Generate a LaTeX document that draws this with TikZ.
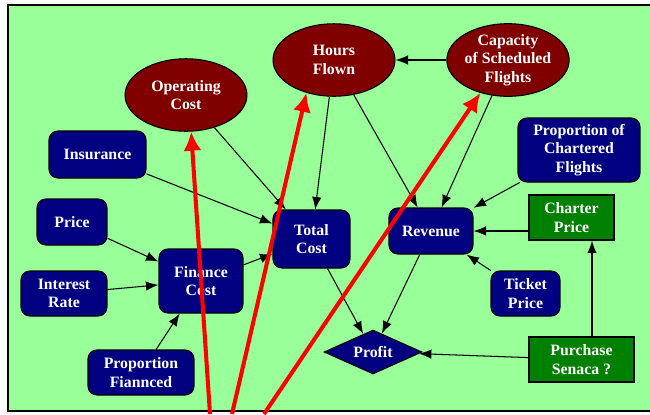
\documentclass[tikz,border=0pt]{standalone}
\usepackage{fontspec}
\setmainfont{Liberation Serif}
\usepackage{xcolor}
\usetikzlibrary{arrows.meta,positioning,shapes.geometric}
\definecolor{paneltint}{HTML}{99FF99}
\definecolor{navyfill}{HTML}{000080}
\definecolor{maroonfill}{HTML}{800000}
\definecolor{leaffill}{HTML}{008000}
\definecolor{inkline}{HTML}{000000}
\tikzset{
  labelfont/.style={font=\bfseries\fontsize{9}{10.5}\selectfont, text=white, align=center},
  ovalnode/.style={
    ellipse,
    draw=inkline,
    line width=0.6pt,
    fill=maroonfill,
    labelfont,
    inner sep=0pt,
    minimum width=2.44cm,
    minimum height=1.45cm
  },
  varbox/.style={
    rectangle,
    draw=inkline,
    rounded corners=5pt,
    line width=0.6pt,
    fill=navyfill,
    labelfont,
    inner sep=0pt,
    minimum height=0.9cm
  },
  choicebox/.style={
    rectangle,
    draw=inkline,
    line width=0.8pt,
    fill=leaffill,
    labelfont,
    inner sep=0pt,
    minimum height=0.9cm
  },
  valuenode/.style={
    diamond,
    draw=inkline,
    line width=0.6pt,
    fill=navyfill,
    labelfont,
    inner sep=0pt,
    aspect=2.2,
    minimum width=1.96cm,
    minimum height=0.88cm
  },
  linkarrow/.style={-{Latex[length=0.25cm,width=0.19cm]}, line width=0.6pt, draw=inkline},
  redarrow/.style={-{Latex[length=0.38cm,width=0.36cm]}, line width=2.3pt, draw=red}
}
\begin{document}
\begin{tikzpicture}[x=0.02cm, y=-0.02cm]
  \useasboundingbox (0,0) rectangle (650,414);
  \fill[white] (0,0) rectangle (650,414);
  \draw[fill=paneltint, draw=inkline, line width=1.1pt] (8,5) rectangle (668,411);

  % chance nodes
  \node[ovalnode] (opcost) at (186,95) {Operating\\Cost};
  \node[ovalnode] (hours) at (334,60) {Hours\\Flown};
  \node[ovalnode, minimum width=2.4cm] (capacity) at (508,60) {Capacity\\of Scheduled\\Flights};

  % inputs
  \node[varbox, minimum width=1.94cm, minimum height=0.94cm] (insur) at (97.5,154.5) {Insurance};
  \node[varbox, minimum width=1.4cm, minimum height=0.92cm] (price) at (72,222) {Price};
  \node[varbox, minimum width=1.72cm] (irate) at (64,293.5) {Interest\\Rate};
  \node[varbox, minimum width=1.68cm, minimum height=1.28cm] (fincost) at (201,281) {Finance\\Cost};
  \node[varbox, minimum width=2.12cm] (propfin) at (141,372.5) {Proportion\\Fiannced};
  \node[varbox, minimum width=1.54cm, minimum height=1.16cm] (total) at (311.5,239) {Total\\Cost};
  \node[varbox, minimum width=1.68cm, minimum height=0.92cm] (revenue) at (431,231) {Revenue};
  \node[varbox, minimum width=2.44cm, minimum height=1.28cm] (propchart) at (579,150) {Proportion of\\Chartered\\Flights};
  \node[varbox, minimum width=1.38cm] (ticket) at (525.5,293.5) {Ticket\\Price};

  % decisions and value
  \node[choicebox, minimum width=1.7cm] (charter) at (571.5,217.5) {Charter\\Price};
  \node[choicebox, minimum width=2.1cm] (purchase) at (581.5,359.5) {Purchase\\Senaca ?};
  \node[valuenode] (profit) at (373,352) {Profit};

  \draw[linkarrow] (opcost) -- (total);
  \draw[linkarrow] (insur) -- (total);
  \draw[linkarrow] (hours) -- (total);
  \draw[linkarrow] (hours) -- (revenue);
  \draw[linkarrow] (capacity) -- (hours);
  \draw[linkarrow] (capacity) -- (revenue);
  \draw[linkarrow] (propchart) -- (revenue);
  \draw[linkarrow] (charter.west |- revenue.east) -- (revenue.east);
  \draw[linkarrow] (ticket) -- (revenue);
  \draw[linkarrow] (price) -- (fincost);
  \draw[linkarrow] (irate) -- (fincost);
  \draw[linkarrow] (propfin) -- (fincost);
  \draw[linkarrow] (fincost) -- (total);
  \draw[linkarrow] (total) -- (profit);
  \draw[linkarrow] (revenue) -- (profit);
  \draw[linkarrow] (purchase) -- (profit);
  \draw[linkarrow] ([xshift=0.21cm]purchase.north) -- ([xshift=0.21cm]purchase.north |- charter.south);

  % red overlay arrows
  \coordinate (foot1) at (210,414);
  \coordinate (foot2) at (232,414);
  \coordinate (foot3) at (264,414);
  \draw[redarrow] (foot1) -- (opcost.278);
  \draw[redarrow] (foot2) -- (hours.230);
  \draw[redarrow] (foot3) -- (capacity.230);
\end{tikzpicture}
\end{document}
